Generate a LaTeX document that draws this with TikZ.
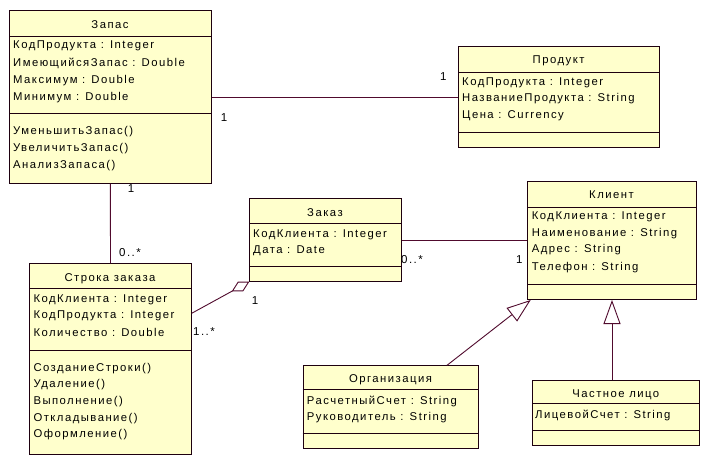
\documentclass[tikz,border=0pt]{standalone}
\usepackage{fontspec}
\setmainfont{Liberation Sans}[LetterSpace=13]
\usetikzlibrary{arrows.meta}
\definecolor{clsfill}{HTML}{FFFFCC}
\definecolor{lnk}{RGB}{80,10,45}
\definecolor{bord}{RGB}{30,0,15}
\newcommand\clsbox[7]{%
  \node[cls, minimum width={#4pt-#2pt}, minimum height={#5pt-#3pt}] (#1) at (#2,#3) {};
  \draw[sepline] (#2,#6) -- (#4,#6);
  \draw[sepline] (#2,#7) -- (#4,#7);
}
\begin{document}
\begin{tikzpicture}[x=1pt,y=-1pt,
  cls/.style={draw=bord, fill=clsfill, line width=1pt, inner sep=0pt, anchor=north west},
  ttl/.style={anchor=base, inner sep=0pt, font=\fontsize{11.3}{13}\selectfont},
  attr/.style={anchor=base west, inner sep=0pt, font=\fontsize{11.3}{13}\selectfont},
  lbl/.style={inner sep=0pt, font=\fontsize{11.5}{13}\selectfont},
  link/.style={draw=lnk, line width=0.9pt},
  sepline/.style={draw=bord, line width=1pt}]
\useasboundingbox[fill=white] (0,0) rectangle (715,466);

% Запас
\clsbox{zapas}{9}{10}{210.7}{182.7}{36}{113.3}
\node[ttl] (zapas-t) at (110,28) {Запас};
\node[attr] (zapas-a1) at (13,48.7) {КодПродукта : Integer};
\node[attr] (zapas-a2) at (13,66) {ИмеющийсяЗапас : Double};
\node[attr] (zapas-a3) at (13,83.3) {Максимум : Double};
\node[attr] (zapas-a4) at (13,100.6) {Минимум : Double};
\node[attr] (zapas-o1) at (13,134) {УменьшитьЗапас()};
\node[attr] (zapas-o2) at (13,151.3) {УвеличитьЗапас()};
\node[attr] (zapas-o3) at (13,168.6) {АнализЗапаса()};

% Продукт
\clsbox{produkt}{458.3}{46}{659}{147}{72.3}{132.7}
\node[ttl] (produkt-t) at (558.6,63.5) {Продукт};
\node[attr] (produkt-a1) at (462,85) {КодПродукта : Integer};
\node[attr] (produkt-a2) at (462,101.5) {НазваниеПродукта : String};
\node[attr] (produkt-a3) at (462,118) {Цена : Currency};

% Строка заказа
\clsbox{stroka}{29.3}{263.3}{190.7}{454}{288.7}{350.7}
\node[ttl] (stroka-t) at (110,281) {Строка заказа};
\node[attr] (stroka-a1) at (33.3,302) {КодКлиента : Integer};
\node[attr] (stroka-a2) at (33.3,318.6) {КодПродукта : Integer};
\node[attr] (stroka-a3) at (33.3,336) {Количество : Double};
\node[attr] (stroka-o1) at (33.3,371) {СозданиеСтроки()};
\node[attr] (stroka-o2) at (33.3,387.6) {Удаление()};
\node[attr] (stroka-o3) at (33.3,404.3) {Выполнение()};
\node[attr] (stroka-o4) at (33.3,421) {Откладывание()};
\node[attr] (stroka-o5) at (33.3,437.6) {Оформление()};

% Заказ
\clsbox{zakaz}{249.3}{198.3}{400.7}{280.7}{223.3}{266.7}
\node[ttl] (zakaz-t) at (325,216.6) {Заказ};
\node[attr] (zakaz-a1) at (253,237) {КодКлиента : Integer};
\node[attr] (zakaz-a2) at (253,253.3) {Дата : Date};

% Клиент
\clsbox{klient}{527.3}{180.7}{695.7}{299}{207.7}{284.3}
\node[ttl] (klient-t) at (611.5,198.3) {Клиент};
\node[attr] (klient-a1) at (531.7,219.3) {КодКлиента : Integer};
\node[attr] (klient-a2) at (531.7,236) {Наименование : String};
\node[attr] (klient-a3) at (531.7,252.6) {Адрес : String};
\node[attr] (klient-a4) at (531.7,270) {Телефон : String};

% Организация
\clsbox{org}{302.7}{365.3}{478.3}{447.7}{389.3}{433.3}
\node[ttl] (org-t) at (390.5,382.6) {Организация};
\node[attr] (org-a1) at (306.7,404.3) {РасчетныйСчет : String};
\node[attr] (org-a2) at (306.7,420.3) {Руководитель : String};

% Частное лицо
\clsbox{chast}{532.3}{380.3}{699.3}{445.3}{403.3}{430.7}
\node[ttl] (chast-t) at (615.8,397) {Частное лицо};
\node[attr] (chast-a1) at (535,418.3) {ЛицевойСчет : String};

% connectors
\draw[link] ([yshift=-0.4pt]zapas.east) -- ([yshift=-0.4pt]zapas.east -| produkt.west);
\draw[link] (zapas.south) -- (stroka.north);
\draw[link] ([yshift=-0.6pt]zakaz.east) -- ([yshift=-0.6pt]zakaz.east -| klient.west);
\draw[link, -{Diamond[open, length=20pt, width=11pt]}] ([yshift=-50pt]stroka.north east) -- (zakaz.south west);
\draw[link, -{Triangle[open, length=24pt, width=17pt, fill=white]}] ([xshift=56pt]org.north) -- ([xshift=3.4pt]klient.south west);
\draw[link, -{Triangle[open, length=24pt, width=17pt, fill=white]}] (chast.north -| klient.south) -- (klient.south);

% multiplicities
\node[lbl] (m1) at (443.3,76.7) {1};
\node[lbl] (m2) at (224,117.3) {1};
\node[lbl] (m3) at (131,188.3) {1};
\node[lbl] (m4) at (130,252.7) {0..*};
\node[lbl] (m5) at (255,300.7) {1};
\node[lbl] (m6) at (204,331.7) {1..*};
\node[lbl] (m7) at (412,260) {0..*};
\node[lbl] (m8) at (519.3,260) {1};
\end{tikzpicture}
\end{document}
